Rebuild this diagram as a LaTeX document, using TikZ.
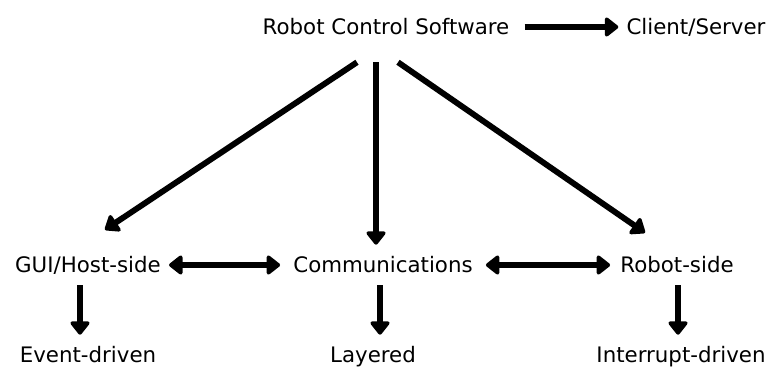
\documentclass[tikz,border=0pt]{standalone}
\usepackage{fontspec}
\setmainfont{DejaVu Sans}
\usetikzlibrary{arrows.meta}
\tikzset{
        item/.style={font=\fontsize{16}{19}\selectfont, inner sep=0pt,
            text height=12pt, text depth=3pt},
        head/.tip={Triangle[length=11pt, width=16.5pt, line width=3pt, round]},
        link/.style={line width=4.4pt, -head},
        twolink/.style={line width=4.4pt, head-head},
    }
\begin{document}
\begin{tikzpicture}[x = 0.75pt, y = -0.75pt]
                \useasboundingbox (0,0) rectangle (780,367);
                % top row
                \node[item] (rcs) at (386,29) {Robot Control Software};
                \node[item] (cs) at (696,29) {Client/Server};
                % middle row
                \node[item] (gui) at (88,266) {GUI/Host-side};
                \node[item] (comm) at (383,266) {Communications};
                \node[item] (robot) at (677,266) {Robot-side};
                % bottom row
                \node[item] (event) at (88,356) {Event-driven};
                \node[item] (layered) at (373,356) {Layered};
                \node[item] (interrupt) at (681,356) {Interrupt-driven};

                \draw[link] ([shift={(15,-2)}]rcs.east) -- ([shift={(-8,-2)}]cs.west);
                \draw[link] ([shift={(-29,23)}]rcs.south) -- ([shift={(17,-26)}]gui.north);
                \draw[link] ([shift={(-10,23)}]rcs.south) -- ([shift={(-7,-11)}]comm.north);
                \draw[link] ([shift={(12,23)}]rcs.south) -- ([shift={(-32,-23)}]robot.north);
                \draw[twolink] ([shift={(8,-1)}]gui.east) -- ([shift={(-13,-1)}]comm.west);
                \draw[twolink] ([shift={(13,-1)}]comm.east) -- ([shift={(-10,-1)}]robot.west);
                \foreach \a/\b/\dx in {gui/event/-8, comm/layered/-3, robot/interrupt/1}
                {
                    \draw[link] ([shift={(\dx,9)}]\a.south) -- ([shift={(\dx,-11)}]\a.south |- \b.north);
                }
            \end{tikzpicture}
\end{document}
